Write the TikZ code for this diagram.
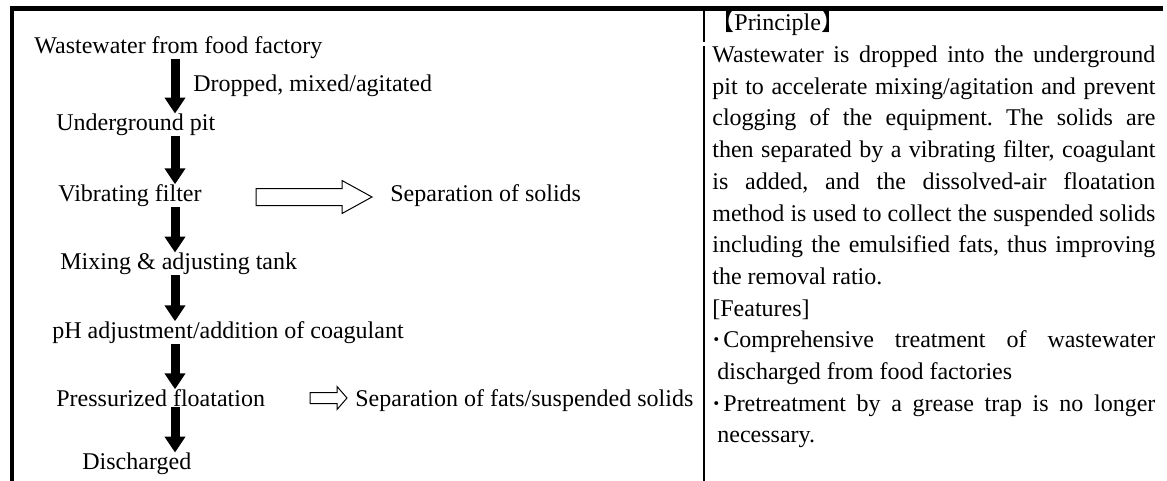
\documentclass[tikz,border=0pt]{standalone}
\usepackage{fontspec}
\setmainfont{Liberation Serif}
\newfontfamily\cjk{Noto Sans CJK JP}
\usetikzlibrary{arrows.meta}
\frenchspacing

\begin{document}
\begin{tikzpicture}[x=0.5pt,y=-0.5pt]

% Define dimensions
\def\arrowx{175}
\def\colx{712}
\def\colwidth{221.5pt}

\tikzset{
  flowtext/.style={anchor=mid west, inner sep=0pt, font=\fontsize{12}{14}\selectfont},
  flowarrow/.style={line width=4.5pt, -{Triangle[width=10pt,length=8pt]}},
  hollowarrow/.style={line width=0.5pt, fill=white},
  frameline/.style={line width=2.5pt},
  midline/.style={line width=1.2pt}
}

\useasboundingbox (0,0) rectangle (1167,481);

% Draw frame
\draw[frameline] (10,8.5) -- (1163,8.5);
\draw[line width=2pt] (11.5,7) -- (11.5,481);
\draw[midline] (704,11) -- (704,42);
\draw[midline] (704,46) -- (704,481);

% Process steps on the left side
\node[flowtext] (wfrom) at (34,49) {Wastewater from food factory};
\node[flowtext] (pit) at (56,126) {Underground pit};
\node[flowtext] (vib) at (58,197) {Vibrating filter};
\node[flowtext] (mix) at (60,265) {Mixing \& adjusting tank};
\node[flowtext] (ph) at (52,334) {pH adjustment/addition of coagulant};
\node[flowtext] (flot) at (56,402) {Pressurized floatation};
\node[flowtext] (dis) at (82,465) {Discharged};

\coordinate (ax) at (\arrowx,0);
\draw[flowarrow] (wfrom.south -| ax) -- (pit.north -| ax);
\draw[flowarrow] (pit.south -| ax) -- (vib.north -| ax);
\draw[flowarrow] (vib.south -| ax) -- (mix.north -| ax);
\draw[flowarrow] (mix.south -| ax) -- (ph.north -| ax);
\draw[flowarrow] (ph.south -| ax) -- (flot.north -| ax);
\draw[flowarrow] (flot.south -| ax) -- (dis.north -| ax);
\node[flowtext] (dropped) at (193,87) {Dropped, mixed/agitated};

% Separated matter on the right of the steps
\node[flowtext] (sepsol) at (390,197) {Separation of solids};
\node[flowtext] (sepfat) at (355,402) {Separation of fats/suspended solids};
\coordinate (h1) at (256,197);
\coordinate (h2) at (310,398);
\draw[hollowarrow] (h1) -- ++(0,-8.5) -- ++(86,0) -- ++(0,-8) -- ++(30,16.5) -- ++(-30,16.5) -- ++(0,-8) -- ++(-86,0) -- cycle;
\draw[hollowarrow] (h2) -- ++(0,-5.5) -- ++(27,0) -- ++(0,-6) -- ++(10,11.5) -- ++(-10,11.5) -- ++(0,-6) -- ++(-27,0) -- cycle;

% Principle and features on the right
\node[flowtext] (principle) at (\colx-2,26) {{\cjk 【}Principle{\cjk 】}};
\node[flowtext] (p1) at (\colx,58) {\makebox[\colwidth][s]{Wastewater is dropped into the underground}};
\node[flowtext] (p2) at (\colx,89.7) {\makebox[\colwidth][s]{pit to accelerate mixing/agitation and prevent}};
\node[flowtext] (p3) at (\colx,121.4) {\makebox[\colwidth][s]{clogging of the equipment. The solids are}};
\node[flowtext] (p4) at (\colx,153.1) {\makebox[\colwidth][s]{then separated by a vibrating filter, coagulant}};
\node[flowtext] (p5) at (\colx,184.8) {\makebox[\colwidth][s]{is added, and the dissolved-air floatation}};
\node[flowtext] (p6) at (\colx,216.5) {\makebox[\colwidth][s]{method is used to collect the suspended solids}};
\node[flowtext] (p7) at (\colx,248.2) {\makebox[\colwidth][s]{including the emulsified fats, thus improving}};
\node[flowtext] (p8) at (\colx,279.9) {the removal ratio.};
\node[flowtext] (feat) at (\colx,311.6) {[Features]};
\node[flowtext] (f1) at (\colx,343.3) {\makebox[5.5pt][l]{\textbf{·}}\makebox[216pt][s]{Comprehensive treatment of wastewater}};
\node[flowtext] (f2) at (\colx+5,375) {discharged from food factories};
\node[flowtext] (f3) at (\colx,406.7) {\makebox[5.5pt][l]{\textbf{·}}\makebox[216pt][s]{Pretreatment by a grease trap is no longer}};
\node[flowtext] (f4) at (\colx+5,438.4) {necessary.};

\end{tikzpicture}
\end{document}
